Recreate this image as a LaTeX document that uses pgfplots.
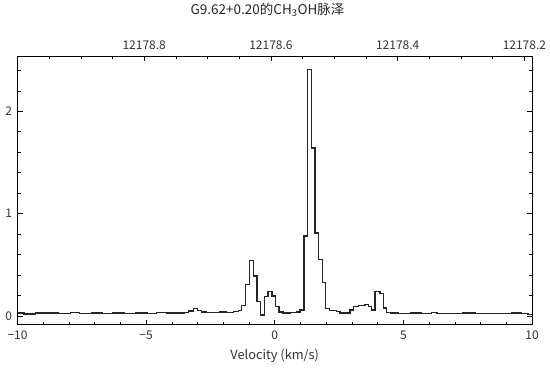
\documentclass[border=0pt]{standalone}
\usepackage{fontspec}
\setmainfont{Noto Sans CJK SC}
\usepackage{pgfplots}
\pgfplotsset{compat=1.18}
\usepackage{pgfplotstable}
\pgfplotstableread{
v T
-10.00 0.030
-9.75 0.020
-9.30 0.030
-8.90 0.028
-8.40 0.025
-7.95 0.032
-7.60 0.026
-7.10 0.030
-6.70 0.024
-6.30 0.030
-5.85 0.027
-5.40 0.030
-4.95 0.026
-4.60 0.032
-4.20 0.028
-3.90 0.030
-3.50 0.035
-3.36 0.049
-3.17 0.072
-3.01 0.054
-2.84 0.040
-2.65 0.032
-2.13 0.040
-1.87 0.035
-1.61 0.045
-1.42 0.055
-1.288 0.100
-1.133 0.310
-0.990 0.540
-0.835 0.390
-0.692 0.140
-0.563 0.010
-0.407 0.190
-0.264 0.240
-0.109 0.195
0.021 0.090
0.163 0.040
0.319 0.030
0.600 0.035
0.850 0.040
0.980 0.060
1.135 0.780
1.265 2.410
1.420 1.640
1.563 0.810
1.706 0.550
1.848 0.325
1.978 0.075
2.120 0.055
2.410 0.045
2.530 0.030
2.920 0.060
3.050 0.095
3.250 0.100
3.510 0.110
3.640 0.090
3.770 0.060
3.900 0.240
4.090 0.220
4.220 0.080
4.350 0.035
4.500 0.030
4.800 0.025
5.300 0.030
5.700 0.026
6.100 0.035
6.300 0.027
6.800 0.025
7.300 0.028
7.800 0.024
8.200 0.027
8.700 0.025
9.200 0.028
9.600 0.022
9.850 0.012
10.00 0.012
}\spectrum
\begin{document}
\begin{tikzpicture}
\useasboundingbox (-17.5bp,-55.5bp) rectangle (532.5bp,324.5bp);
\pgfplotsset{every axis/.append style={
  at={(0,0)}, anchor=south west,
  scale only axis, width=514.5bp, height=268.5bp,
  tick align=inside,
  major tick length=5bp, minor tick length=3bp,
  tick style={black, line width=0.6pt},
  axis line style={black, line width=0.9pt},
  ticklabel style={font=\fontsize{12bp}{14bp}\selectfont, text=black!80},
}}
\begin{axis}[
  xmin=-10, xmax=10, ymin=-0.083, ymax=2.54,
  xtick={-10,-5,0,5,10}, xticklabels={−10,−5,0,5,10},
  minor xtick={-9,-8,-7,-6,-4,-3,-2,-1,1,2,3,4,6,7,8,9},
  ytick={0,1,2}, yticklabels={0,1,2},
  minor ytick={0.2,0.4,0.6,0.8,1.2,1.4,1.6,1.8,2.2,2.4},
  xtick pos=left, ytick pos=both,
  xticklabel style={yshift=-3bp},
  yticklabel style={xshift=-2bp},
  xlabel={Velocity (km/s)},
  xlabel style={at={(axis description cs:0.5,0)}, anchor=center, yshift=-31.5bp,
    font=\fontsize{12.8bp}{15bp}\selectfont, text=black!80},
  title={G9.62+0.20的CH\textsubscript{3}OH脉泽},
  title style={at={(axis description cs:0.486,1)}, anchor=center, yshift=40bp,
    font=\fontsize{13.5bp}{16bp}\selectfont, text=black!85},
]
\addplot[const plot mark left, black!85, line width=1.4pt] table[x=v, y=T] {\spectrum};
\end{axis}
\begin{axis}[
  x dir=reverse, xmin=0.188, xmax=1.0, ymin=0, ymax=1,
  axis x line*=top, hide y axis,
  xtick={0.2,0.4,0.6,0.8}, xticklabels={12178.2,12178.4,12178.6,12178.8},
  minor xtick={0.25,0.3,0.35,0.45,0.5,0.55,0.65,0.7,0.75,0.85,0.9,0.95},
  xticklabel style={yshift=3bp},
]
\end{axis}
\end{tikzpicture}
\end{document}
